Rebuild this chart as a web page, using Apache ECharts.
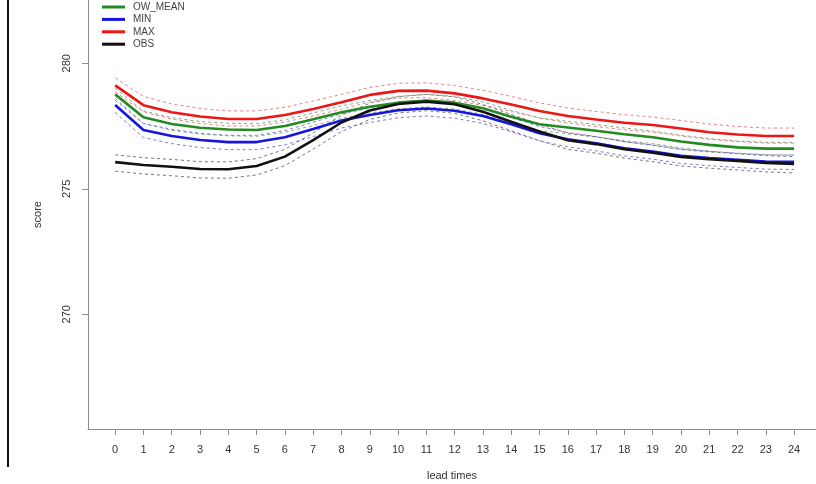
<!DOCTYPE html>
<html>
<head>
<meta charset="utf-8">
<script src="https://cdn.jsdelivr.net/npm/echarts@6/dist/echarts.min.js"></script>
<style>
html,body{margin:0;padding:0;background:#fff;}
#chart{width:816px;height:484px;}
</style>
</head>
<body>
<div id="chart"></div>
<script>
// ---- data ----
const leadTimes = [0,1,2,3,4,5,6,7,8,9,10,11,12,13,14,15,16,17,18,19,20,21,22,23,24];
const yTicks = [270, 275, 280];
const seriesNames = ['OW_MEAN', 'MIN', 'MAX', 'OBS'];

const owMean = [278.76,277.85,277.58,277.43,277.36,277.34,277.50,277.77,278.05,278.27,278.43,278.51,278.43,278.21,277.87,277.57,277.44,277.31,277.17,277.05,276.88,276.75,276.65,276.60,276.60];
const minVals = [278.34,277.34,277.10,276.94,276.86,276.86,277.05,277.38,277.72,277.94,278.13,278.20,278.11,277.90,277.57,277.21,276.97,276.81,276.61,276.48,276.31,276.22,276.15,276.08,276.07];
const maxVals = [279.12,278.33,278.05,277.88,277.78,277.78,277.94,278.18,278.45,278.74,278.90,278.91,278.80,278.60,278.36,278.10,277.90,277.76,277.63,277.54,277.40,277.25,277.16,277.10,277.10];
const obsVals = [276.06,275.95,275.88,275.79,275.78,275.91,276.28,276.94,277.64,278.12,278.38,278.47,278.37,278.07,277.67,277.28,276.93,276.78,276.58,276.44,276.27,276.18,276.11,276.03,275.99];

const maxUpper = [279.42,278.68,278.38,278.20,278.10,278.10,278.25,278.50,278.76,279.04,279.20,279.22,279.11,278.92,278.68,278.42,278.22,278.08,277.95,277.86,277.72,277.58,277.48,277.42,277.42];
const maxLower = [278.86,278.06,277.78,277.60,277.50,277.50,277.66,277.90,278.17,278.46,278.62,278.63,278.52,278.32,278.08,277.82,277.62,277.48,277.35,277.26,277.10,276.97,276.88,276.82,276.82];
const owUpper = [279.00,278.10,277.83,277.68,277.61,277.59,277.75,278.02,278.30,278.52,278.68,278.76,278.68,278.46,278.12,277.82,277.69,277.56,277.42,277.30,277.13,277.00,276.90,276.85,276.85];
const owLower = [278.52,277.60,277.33,277.18,277.11,277.09,277.25,277.52,277.80,278.02,278.18,278.26,278.18,277.96,277.62,277.32,277.19,277.06,276.92,276.80,276.63,276.50,276.40,276.35,276.35];
const minUpper = [278.60,277.60,277.37,277.21,277.13,277.13,277.32,277.65,277.99,278.21,278.40,278.47,278.38,278.17,277.84,277.48,277.24,277.08,276.88,276.75,276.58,276.49,276.42,276.35,276.34];
const minLower = [278.04,277.04,276.80,276.64,276.56,276.56,276.75,277.08,277.42,277.64,277.83,277.90,277.81,277.60,277.27,276.91,276.67,276.51,276.31,276.18,276.01,275.92,275.85,275.78,275.77];
const obsUpper = [276.35,276.24,276.17,276.08,276.07,276.20,276.57,277.23,277.93,278.41,278.67,278.76,278.66,278.36,277.96,277.57,277.22,277.07,276.87,276.73,276.56,276.47,276.40,276.32,276.28];
const obsLower = [275.70,275.59,275.52,275.43,275.42,275.55,275.92,276.58,277.28,277.76,278.02,278.11,278.01,277.71,277.31,276.92,276.57,276.42,276.22,276.08,275.91,275.82,275.75,275.67,275.63];

// ---- chart ----
const FONT = "'Liberation Sans', Arial, sans-serif";
const pairs = arr => arr.map((v, i) => [leadTimes[i], v]);

function mainLine(name, data, color) {
  return { name, type: 'line', data: pairs(data), symbol: 'none', smooth: false,
    lineStyle: { color, width: 2.6 }, itemStyle: { color }, silent: true, z: 3 };
}
function bandLine(name, data, color) {
  return { name, type: 'line', data: pairs(data), symbol: 'none', smooth: false,
    lineStyle: { color, width: 1, type: [3, 3] }, silent: true, z: 2 };
}

const chart = echarts.init(document.getElementById('chart'), null, { renderer: 'canvas' });
chart.setOption({
  animation: false,
  backgroundColor: '#fff',
  textStyle: { fontFamily: FONT },
  grid: { left: 88, top: 0, width: 728, height: 429, show: false, containLabel: false, outerBoundsMode: 'none' },
  legend: {
    data: seriesNames,
    orient: 'vertical', left: 97, top: -4,
    itemWidth: 23, itemHeight: 3, itemGap: 0.4, icon: 'rect',
    textStyle: { fontFamily: FONT, fontSize: 10, color: '#444', lineHeight: 12, padding: [0, 0, 0, 3] },
    selectedMode: false
  },
  xAxis: {
    type: 'value', min: -0.96, max: 24.774,
    name: 'lead times', nameLocation: 'middle', nameGap: 41,
    nameTextStyle: { fontFamily: FONT, fontSize: 11, color: '#333' },
    axisLine: { show: true, onZero: false, lineStyle: { color: '#8c8c8c', width: 1 } },
    axisTick: { show: true, length: 6, lineStyle: { color: '#8c8c8c' }, customValues: leadTimes },
    axisLabel: { fontFamily: FONT, fontSize: 11, color: '#333', margin: 15, customValues: leadTimes },
    splitLine: { show: false }
  },
  yAxis: {
    type: 'value', min: 265.43, max: 282.52,
    name: 'score', nameLocation: 'middle', nameGap: 45, nameRotate: 90,
    nameTextStyle: { fontFamily: FONT, fontSize: 11, color: '#333' },
    axisLine: { show: true, onZero: false, lineStyle: { color: '#8c8c8c', width: 1 } },
    axisTick: { show: true, length: 6, lineStyle: { color: '#8c8c8c' }, customValues: yTicks },
    axisLabel: { fontFamily: FONT, fontSize: 11, color: '#333', rotate: 90, margin: 16, customValues: yTicks },
    splitLine: { show: false }
  },
  graphic: [
    { type: 'line', shape: { x1: 8, y1: 0, x2: 8, y2: 467 }, style: { stroke: '#111', lineWidth: 2 }, silent: true }
  ],
  series: [
    bandLine('MAX upper', maxUpper, '#ee8080'),
    bandLine('MAX lower', maxLower, '#ee8080'),
    bandLine('OW_MEAN upper', owUpper, '#86a886'),
    bandLine('OW_MEAN lower', owLower, '#86a886'),
    bandLine('MIN upper', minUpper, '#7a7ad8'),
    bandLine('MIN lower', minLower, '#7a7ad8'),
    bandLine('OBS upper', obsUpper, '#777777'),
    bandLine('OBS lower', obsLower, '#777777'),
    mainLine('OW_MEAN', owMean, '#228b22'),
    mainLine('MIN', minVals, '#1515e0'),
    mainLine('MAX', maxVals, '#ee1515'),
    mainLine('OBS', obsVals, '#111111')
  ]
});
</script>
</body>
</html>
